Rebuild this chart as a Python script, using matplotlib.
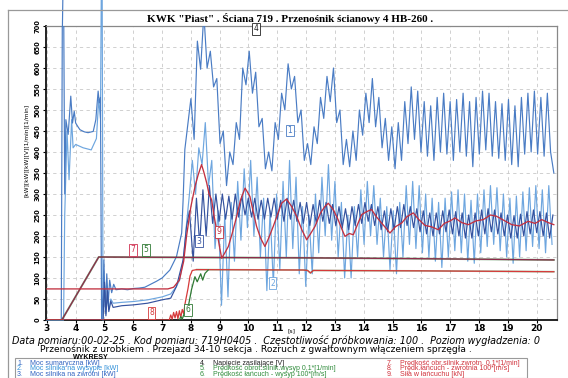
import numpy as np
import matplotlib
matplotlib.use("Agg")
import matplotlib.pyplot as plt
from matplotlib.lines import Line2D
from matplotlib.patches import Rectangle

# ---------------- data ----------------
# Series 1: Moc sumaryczna [kW]  (start-up part, then oscillation extrema)
s1_t_pre = [3.0, 3.5, 3.54, 3.58, 3.62, 3.66, 3.74, 3.83, 3.89, 3.95, 4.0, 4.08, 4.15, 4.3, 4.43,
            4.61, 4.7, 4.78, 4.82, 4.86, 4.9, 4.95, 4.98, 5.03, 5.08, 5.13, 5.18, 5.25, 5.32, 5.4,
            5.6, 5.8, 6.0, 6.2, 6.4, 6.6, 6.8, 7.0, 7.27, 7.5, 7.68, 7.73, 7.79]
s1_v_pre = [0, 0, 790, 790, 300, 477, 442, 533, 469, 497, 469, 460, 453, 448, 446,
            449, 477, 545, 517, 530, 0, 60, 143, 20, 110, 40, 95, 65, 85, 72,
            74, 72, 75, 76, 78, 85, 92, 100, 119, 151, 207, 286, 406]
s1_osc_start = 8.0
s1_osc = [527, 430, 664, 597, 730, 600, 640, 555, 575, 420,
          450, 320, 400, 370, 470, 430, 600, 560, 640, 540,
          590, 460, 480, 360, 400, 355, 470, 430, 540, 500,
          610, 550, 580, 470, 500, 380, 420, 370, 460, 420,
          530, 480, 580, 520, 600, 470, 500, 370, 430, 365,
          450, 380, 500, 440, 540, 470, 575, 460, 530, 410,
          480, 380, 460, 360, 470, 380, 520, 420, 555, 430,
          545, 400, 520, 390, 510, 380, 530, 400, 540, 395,
          520, 380, 525, 400, 540, 390, 520, 365, 530, 395,
          545, 405, 540, 390, 520, 385, 515, 380, 525, 370,
          510, 365, 530, 395, 540, 400, 545, 395, 530, 390,
          540, 400, 350]

# Series 2: Moc silnika na wysypie [kW]
s2_t_pre = [3.0, 3.58, 3.62, 3.7, 3.77, 3.86, 3.91, 4.0, 4.26, 4.54, 4.72, 4.8, 4.86, 4.89, 4.92,
            4.95, 5.0, 5.05, 5.1, 5.15, 5.22, 5.3, 5.6, 6.0, 6.5, 7.0, 7.3, 7.5, 7.61, 7.75, 7.85, 7.95]
s2_v_pre = [0, 0, 250, 450, 334, 477, 410, 418, 410, 405, 432, 525, 480, 790, 790,
            0, 80, 15, 60, 25, 50, 40, 42, 44, 48, 55, 62, 80, 95, 150, 230, 300]
s2_osc_start = 8.05
s2_osc = [380, 300, 410, 370, 470, 320, 380, 170, 260, 35,
          250, 55, 280, 140, 330, 190, 360, 220, 380, 200,
          340, 150, 290, 70, 260, 85, 300, 120, 330, 150,
          380, 170, 340, 110, 270, 80, 250, 110, 300, 160,
          340, 200, 370, 190, 330, 150, 280, 100, 250, 100,
          270, 150, 310, 180, 330, 200, 320, 180, 290, 150,
          270, 120, 260, 110, 280, 150, 320, 180, 330, 170,
          320, 160, 300, 150, 290, 140, 280, 125, 290, 150,
          305, 165, 310, 160, 300, 140, 285, 135, 300, 160,
          310, 175, 320, 180, 315, 165, 300, 150, 290, 135,
          295, 150, 305, 165, 315, 175, 320, 170, 310, 160,
          320, 180]

# Series 3: Moc silnika na zwrotni [kW]
s3_t_pre = [3.0, 4.95, 5.0, 5.05, 5.1, 5.15, 5.22, 5.3, 5.6, 6.0, 6.5, 7.0, 7.3, 7.5, 7.73, 7.85, 7.95]
s3_v_pre = [0, 0, 90, 10, 70, 20, 45, 30, 34, 36, 40, 48, 52, 80, 143, 223, 260]
s3_osc_start = 8.08
s3_osc = [140, 290, 180, 310, 200, 320, 230, 300, 235, 300,
          240, 295, 240, 300, 245, 295, 250, 290, 245, 290,
          240, 285, 240, 290, 245, 290, 240, 285, 235, 290,
          240, 285, 235, 280, 230, 280, 225, 275, 230, 285,
          235, 280, 230, 275, 225, 270, 220, 265, 215, 270,
          225, 275, 230, 280, 235, 275, 225, 270, 215, 260,
          210, 265, 215, 270, 220, 275, 225, 270, 220, 265,
          210, 260, 205, 255, 200, 255, 205, 260, 210, 262,
          205, 258, 200, 255, 195, 250, 195, 255, 200, 262,
          205, 265, 210, 262, 205, 255, 200, 250, 195, 248,
          195, 252, 200, 258, 205, 262, 208, 258, 200, 255,
          195, 250]

# Series 5 / 7: motor speeds 0.1*[1/min]
s7_t = [3.0, 3.52, 4.8, 8.0, 12.0, 16.0, 20.6]
s7_v = [0, 0, 150, 149, 148, 146, 143]

# Series 8: chain speed (return) 100*[m/s]
s8_t = [3.0, 7.25, 7.3, 7.35, 7.4, 7.45, 7.5, 7.55, 7.6, 7.65, 7.7, 7.75, 7.8, 7.9, 7.97, 8.05,
        8.2, 11.9, 12.05, 12.15, 12.25, 16.0, 20.6]
s8_v = [0, 0, 12, 2, 18, 5, 20, 3, 22, 6, 25, 15, 40, 75, 105, 118,
        120, 119, 118, 112, 118, 117, 115]

# Series 6: chain speed (drive) 100*[m/s]
s6_t = [7.6, 7.65, 7.7, 7.75, 7.8, 7.91, 8.02, 8.14, 8.22, 8.34, 8.41, 8.49, 8.6]
s6_v = [0, 8, 2, 12, 20, 32, 72, 103, 91, 110, 95, 111, 119]

# Series 9: chain force [kN]
s9_t = [3.0, 7.2, 7.4, 7.6, 7.75, 7.85, 8.0, 8.15, 8.25, 8.37, 8.45, 8.55, 8.63, 8.72, 8.8, 8.89,
        8.98, 9.07, 9.18, 9.3, 9.45, 9.59, 9.72, 9.88, 9.96, 10.05, 10.15, 10.28, 10.42, 10.57,
        10.7, 10.86, 11.0, 11.15, 11.32, 11.5, 11.67, 11.85, 12.02, 12.15, 12.31, 12.5, 12.65,
        12.77, 12.95, 13.11, 13.25, 13.35, 13.5, 13.64, 13.8, 13.93, 14.1, 14.27, 14.45, 14.62,
        14.78, 14.91, 15.1, 15.32, 15.5, 15.72, 15.9, 16.13, 16.35, 16.59, 16.8, 17.0, 17.17,
        17.4, 17.63, 17.9, 18.15, 18.4, 18.61, 18.9, 19.14, 19.4, 19.71, 19.95, 20.18, 20.4, 20.6]
s9_v = [74, 74, 78, 95, 140, 200, 270, 320, 345, 370, 352, 326, 300, 286, 250, 215,
        180, 147, 160, 175, 210, 247, 285, 314, 305, 294, 262, 223, 195, 175,
        195, 223, 250, 278, 288, 270, 247, 215, 191, 205, 223, 255, 270,
        278, 262, 239, 215, 199, 206, 203, 230, 251, 258, 263, 245, 231,
        218, 207, 222, 231, 246, 255, 240, 225, 222, 215, 230, 236, 243,
        232, 227, 236, 239, 250, 247, 236, 227, 224, 235, 230, 239, 232, 227]

half_period = 0.1125  # spacing of the read extrema (s)

x_ticks = list(range(3, 21))
y_ticks = list(range(0, 701, 50))

title = 'KWK "Piast" . Ściana 719 . Przenośnik ścianowy 4 HB-260 .'
info1 = ("Data pomiaru:00-02-25 . Kod pomiaru: 719H0405 .  Częstotliwość próbkowania: 100 .  "
         "Poziom wygładzenia: 0")
info2 = "Przenośnik z urobkiem . Przejazd 34-10 sekcja . Rozruch z gwałtownym włączeniem sprzęgła ."
legend_items = [
    ("1.", "Moc sumaryczna [kW]", "#2f62c0"),
    ("2.", "Moc silnika na wysypie [kW]", "#2f8fd8"),
    ("3.", "Moc silnika na zwrotni [kW]", "#2f62c0"),
    ("4.", "Napięcie zasilające [V]", "#222222"),
    ("5.", "Prędkość obrot.silnik.wysyp 0,1*[1/min]", "#2e8b3a"),
    ("6.", "Prędkość łańcuch - wysyp 100*[m/s]", "#2e8b3a"),
    ("7.", "Prędkość obr.silnik.zwrotn. 0,1*[1/min]", "#d0303a"),
    ("8.", "Prędk.łańcuch - zwrotnia 100*[m/s]", "#d0303a"),
    ("9.", "Siła w łańcuchu [kN]", "#d0303a"),
]

# ---------------- figure ----------------
W, H = 568, 378
fig = plt.figure(figsize=(W / 100, H / 100), dpi=100)
fig.patch.set_facecolor("white")

def fx(px):
    return px / W

def fy(py):
    return 1 - py / H

ax = fig.add_axes([fx(46), fy(320), fx(557) - fx(46), fy(26) - fy(320)])
ax.set_xlim(2.97, 20.71)
ax.set_ylim(0, 700)

c1, c2, c3 = "#4a7cc4", "#6ea6df", "#34529f"
c9, c7, c8, cg = "#c23040", "#8e2a4a", "#d63a3a", "#2f7a34"


def osc(start, vals):
    t = start + half_period * np.arange(len(vals))
    return t, np.asarray(vals, float)

t1, v1 = osc(s1_osc_start, s1_osc)
t2, v2 = osc(s2_osc_start, s2_osc)
t3, v3 = osc(s3_osc_start, s3_osc)

lw = 0.85
ax.plot(np.r_[s2_t_pre, t2], np.r_[s2_v_pre, v2], color=c2, lw=lw, zorder=3, clip_on=False)
ax.plot(np.r_[s1_t_pre, t1], np.r_[s1_v_pre, v1], color=c1, lw=lw, zorder=4)
ax.plot(np.r_[s3_t_pre, t3], np.r_[s3_v_pre, v3], color=c3, lw=lw, zorder=5)
ax.plot(s7_t, s7_v, color=cg, lw=1.4, zorder=5, alpha=0.6)
ax.plot(s7_t, s7_v, color=c7, lw=0.9, zorder=6)
ax.plot(s8_t[16:], s8_v[16:], color=cg, lw=1.2, zorder=5, alpha=0.5)
ax.plot(s8_t, s8_v, color=c8, lw=0.9, zorder=6)
ax.plot(s6_t, s6_v, color=cg, lw=0.9, zorder=6)
ax.plot(s9_t, s9_v, color=c9, lw=0.95, zorder=7)

# vertical spike of series 1 beyond the axes top (as in the scan)
ax.plot([3.54, 3.56], [700, 790], color=c1, lw=lw, clip_on=False, zorder=4)

ax.set_xticks(x_ticks)
ax.set_yticks(y_ticks)
ax.set_xticklabels([str(v) for v in x_ticks], fontsize=6.5, fontweight="bold")
ax.set_yticklabels([str(v) for v in y_ticks], fontsize=4.8, fontweight="bold", rotation=90, va="center")
ax.tick_params(axis="x", length=2.0, pad=1.2, width=0.8)
ax.tick_params(axis="y", length=2.5, pad=1.5, width=0.8)
ax.grid(True, color="#c9c9c9", lw=0.6, linestyle=(0, (4, 4)))
ax.set_axisbelow(True)
for s in ["left", "bottom"]:
    ax.spines[s].set_color("#111111")
    ax.spines[s].set_linewidth(1.3)
for s in ["top", "right"]:
    ax.spines[s].set_color("#888888")
    ax.spines[s].set_linewidth(0.9)

# boxed series labels
def tag(x, y, txt, col):
    ax.text(x, y, txt, fontsize=5.5, color=col, ha="center", va="center", zorder=10,
            bbox=dict(boxstyle="square,pad=0.18", fc="white", ec=col, lw=0.6))

tag(10.25, 693, "4", "#222222")
tag(11.44, 451, "1", c1)
tag(5.99, 167, "7", "#d03050")
tag(6.44, 167, "5", cg)
tag(8.97, 210, "9", c9)
tag(8.28, 188, "3", c3)
tag(10.84, 88, "2", c2)
tag(6.64, 17, "8", c8)
tag(7.9, 24, "6", cg)

# outer frame of the page
fig.add_artist(Line2D([fx(8), fx(8)], [0, fy(10)], color="#999999", lw=0.9))
fig.add_artist(Line2D([fx(8), 1], [fy(10), fy(10)], color="#999999", lw=0.9))

fig.text(fx(290), fy(19), title, fontsize=8, fontweight="bold", family="Liberation Serif",
         ha="center", va="center")
fig.text(fx(26), fy(150), "[kW][kW][kW][V][1/min][1/min]", fontsize=4.2, rotation=90,
         ha="center", va="center")
fig.text(fx(291), fy(331), "[s]", fontsize=4.4, ha="center", va="center")
fig.text(fx(12), fy(340.6), info1, fontsize=6.9, style="italic", family="DejaVu Sans",
         ha="left", va="center")
fig.text(fx(40), fy(349.6), info2, fontsize=6.6, family="DejaVu Sans", ha="left", va="center")

# legend box
fig.add_artist(Rectangle((fx(15), 0), fx(527) - fx(15), fy(357.5), transform=fig.transFigure,
                         fill=False, ec="#9a9a9a", lw=0.8))
fig.text(fx(91), fy(357.4), "WYKRESY", fontsize=5.0, fontweight="bold", family="Liberation Sans",
         ha="center", va="center")
cols = [(17, 30), (200, 213), (387, 400)]
rows = [363.2, 369, 374.6]
for i, (num, txt, col) in enumerate(legend_items):
    cx, tx = cols[i // 3]
    ry = rows[i % 3]
    fig.text(fx(cx), fy(ry), num, fontsize=5.0, color=col, family="Liberation Sans", va="center")
    fig.text(fx(tx), fy(ry), txt, fontsize=5.0, color=col, family="Liberation Sans", va="center")

fig.savefig("out.png", dpi=100)
